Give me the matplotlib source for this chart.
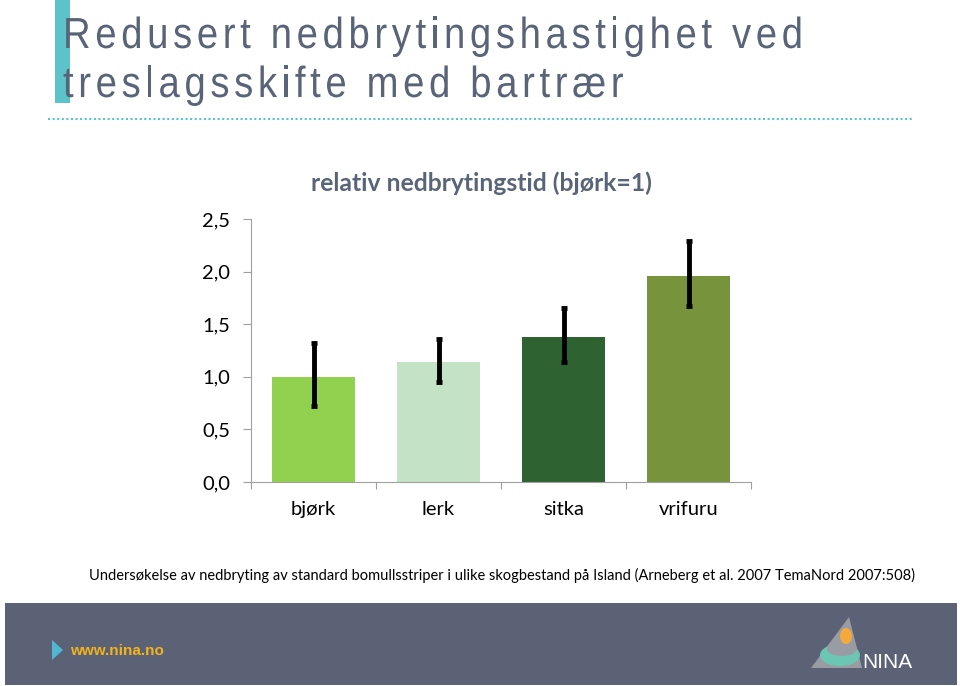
import matplotlib
matplotlib.use("Agg")
import matplotlib.pyplot as plt
from matplotlib.patches import Rectangle, Polygon, Ellipse, PathPatch
from matplotlib.textpath import TextPath, TextToPath
from matplotlib.font_manager import FontProperties
from matplotlib.transforms import Affine2D

# data
species = ["bjørk", "lerk", "sitka", "vrifuru"]
values = [1.00, 1.14, 1.38, 1.96]
err_low = [0.72, 0.95, 1.14, 1.67]
err_high = [1.32, 1.36, 1.65, 2.29]
bar_colors = ["#92D050", "#C4E2C6", "#2E6331", "#77933C"]
yticks = [0.0, 0.5, 1.0, 1.5, 2.0, 2.5]

title_lines = ["Redusert nedbrytingshastighet ved", "treslagsskifte med bartrær"]
chart_title = "relativ nedbrytingstid (bjørk=1)"
caption = ("Undersøkelse av nedbryting av standard bomullsstriper i ulike "
           "skogbestand på Island (Arneberg et al. 2007 TemaNord 2007:508)")

W, H = 960, 686
TITLE_COL = "#5A6479"
BODY_FONT = ["Lato", "DejaVu Sans"]

fig = plt.figure(figsize=(9.6, 6.86), dpi=100)
fig.patch.set_facecolor("white")

# overlay in pixel coordinates for the slide decoration
bg = fig.add_axes([0, 0, 1, 1])
bg.set_xlim(0, W)
bg.set_ylim(H, 0)
bg.axis("off")


def spaced_text(x0, baseline, s, em, sx, track, color):
    # slide title font is narrow with extra letter spacing
    fp = FontProperties(family="Liberation Sans", size=em)
    ttp = TextToPath()
    for i, ch in enumerate(s):
        if ch == " ":
            continue
        w = ttp.get_text_width_height_descent(s[:i], fp, ismath=False)[0] if i else 0
        tp = TextPath((0, 0), ch, size=em, prop=fp)
        tr = Affine2D().scale(sx, -1).translate(x0 + sx * w + track * i, baseline)
        bg.add_patch(PathPatch(tr.transform_path(tp), color=color, lw=0))


def line_width(s, em):
    fp = FontProperties(family="Liberation Sans", size=em)
    return TextToPath().get_text_width_height_descent(s, fp, ismath=False)[0]


bg.add_patch(Rectangle((55, 0), 15, 103, color="#5BC3C9", lw=0))
EM, SX = 43.5, 0.88
track = (740 - SX * line_width(title_lines[0], EM)) / (len(title_lines[0]) - 1)
spaced_text(63, 48, title_lines[0], EM, SX, track, TITLE_COL)
spaced_text(63, 97, title_lines[1], EM, SX, track, TITLE_COL)
bg.plot([48, 912], [119, 119], color="#5BC3C9", lw=1.5, linestyle=(0, (1, 1.2)))

# chart
ax = fig.add_axes([251 / W, 1 - 482 / H, 500 / W, 263 / H])
x = list(range(len(species)))
ax.bar(x, values, width=0.66, color=bar_colors, zorder=2)
lower = [v - lo for v, lo in zip(values, err_low)]
upper = [hi - v for v, hi in zip(values, err_high)]
ax.errorbar(x, values, yerr=[lower, upper], fmt="none", ecolor="black",
            elinewidth=3.5, capsize=2.5, capthick=3.5, zorder=3)

ax.set_xlim(-0.5, len(species) - 0.5)
ax.set_ylim(0, 2.5)
ax.set_yticks(yticks)
ax.set_yticklabels([f"{t:.1f}".replace(".", ",") for t in yticks],
                   fontsize=14.5, family=BODY_FONT)
ax.set_xticks([i - 0.5 for i in range(len(species) + 1)])
ax.set_xticklabels([])
ax.set_xticks(x, minor=True)
ax.set_xticklabels(species, minor=True, fontsize=14.5, family=BODY_FONT)
ax.tick_params(axis="x", which="minor", length=0, pad=14)
ax.tick_params(axis="x", which="major", length=5, color="#A0A0A0")
ax.tick_params(axis="y", length=6, color="#A0A0A0", pad=9)
for s in ["top", "right"]:
    ax.spines[s].set_visible(False)
for s in ["left", "bottom"]:
    ax.spines[s].set_color("#A0A0A0")

bg.text(481, 183, chart_title, fontsize=17.8, color=TITLE_COL, family=BODY_FONT,
        fontweight="bold", ha="center", va="center")

bg.text(502, 575, caption, fontsize=10.5, family=BODY_FONT,
        ha="center", va="center", color="black")

# footer band with site link and logo
bg.add_patch(Rectangle((5, 603), 952, 82, color="#5B6276", lw=0))
bg.add_patch(Polygon([(52, 640), (63, 650), (52, 660)], color="#4FB8D0", lw=0))
bg.text(70, 651, "www.nina.no", fontsize=11, color="#F2B31B", fontweight="bold",
        family="Liberation Sans", va="center")
bg.add_patch(Polygon([(849, 617), (811, 668), (862, 668)], color="#9A9CA4", lw=0))
bg.add_patch(Ellipse((840, 655), 40, 22, color="#6CC6B4", lw=0))
bg.add_patch(Ellipse((842, 649), 30, 14, color="#9A9CA4", lw=0))
bg.add_patch(Ellipse((846, 636), 12, 16, color="#F6A93B", lw=0))
bg.text(862, 668, "NINA", fontsize=15, color="white",
        family="Liberation Sans", va="baseline")

fig.savefig("out.png", dpi=100)
